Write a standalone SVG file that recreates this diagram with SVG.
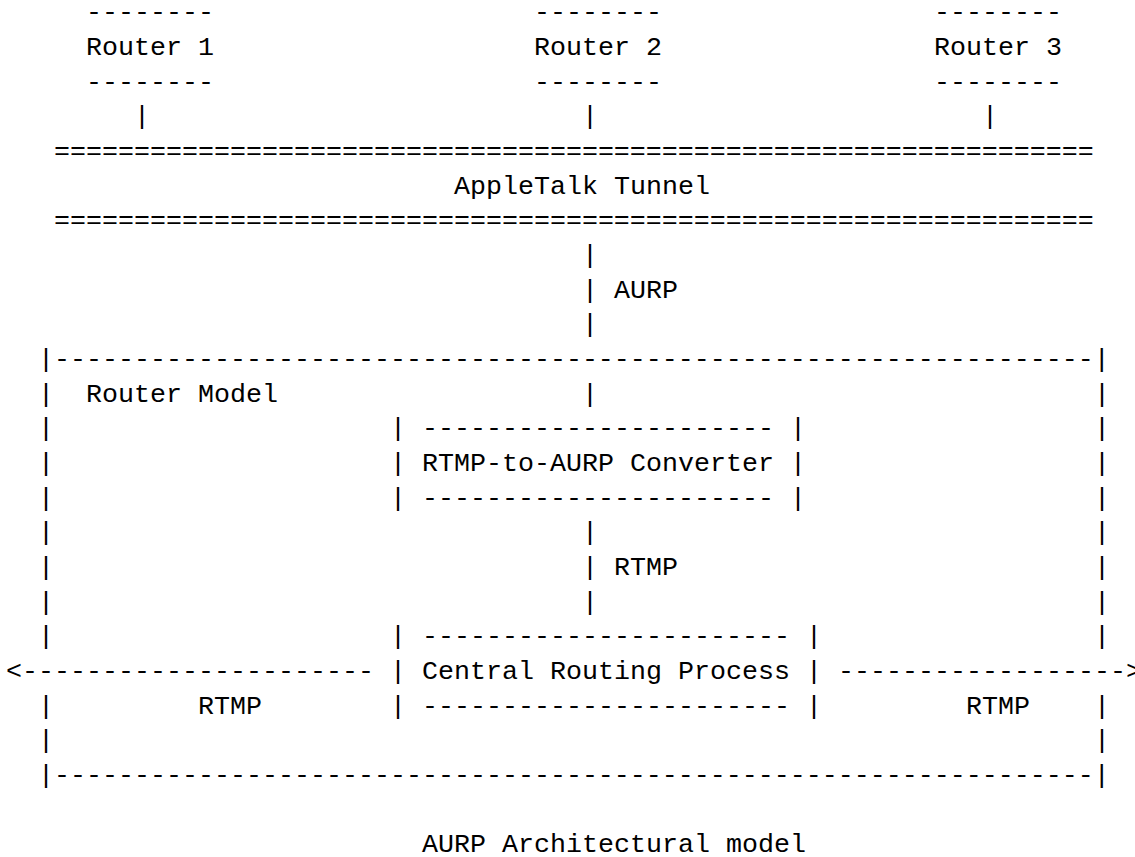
<svg xmlns="http://www.w3.org/2000/svg" width="1135" height="857" viewBox="0 0 1135 857">
<style>
.t{font-family:"Liberation Mono","Courier New",monospace;font-size:26.66px;fill:#000;white-space:pre}
</style>
<rect width="1135" height="857" fill="#fff"/>
<g id="router1">
<text class="t" x="86" y="20.3">--------</text>
<text class="t" x="86" y="55">Router 1</text>
<text class="t" x="86" y="89.7">--------</text>
</g>
<g id="router2">
<text class="t" x="534" y="20.3">--------</text>
<text class="t" x="534" y="55">Router 2</text>
<text class="t" x="534" y="89.7">--------</text>
</g>
<g id="router3">
<text class="t" x="934" y="20.3">--------</text>
<text class="t" x="934" y="55">Router 3</text>
<text class="t" x="934" y="89.7">--------</text>
</g>
<g id="tunnel">
<text class="t" x="54" y="159">=================================================================</text>
<text class="t" x="454" y="193.7">AppleTalk Tunnel</text>
<text class="t" x="54" y="228.3">=================================================================</text>
</g>
<g id="router-model">
<text class="t" x="38" y="367">|-----------------------------------------------------------------|</text>
<text class="t" x="86" y="401.7">Router Model</text>
<text class="t" x="38" y="401.7">|</text><text class="t" x="1094" y="401.7">|</text>
<text class="t" x="38" y="436.3">|</text><text class="t" x="1094" y="436.3">|</text>
<text class="t" x="38" y="471">|</text><text class="t" x="1094" y="471">|</text>
<text class="t" x="38" y="505.7">|</text><text class="t" x="1094" y="505.7">|</text>
<text class="t" x="38" y="540.3">|</text><text class="t" x="1094" y="540.3">|</text>
<text class="t" x="38" y="575">|</text><text class="t" x="1094" y="575">|</text>
<text class="t" x="38" y="609.7">|</text><text class="t" x="1094" y="609.7">|</text>
<text class="t" x="38" y="644.3">|</text><text class="t" x="1094" y="644.3">|</text>
<text class="t" x="38" y="713.7">|</text><text class="t" x="1094" y="713.7">|</text>
<text class="t" x="38" y="748.3">|</text><text class="t" x="1094" y="748.3">|</text>
<text class="t" x="38" y="783">|-----------------------------------------------------------------|</text>
</g>
<g id="converter">
<text class="t" x="390" y="436.3">|</text><text class="t" x="422" y="436.3">----------------------</text><text class="t" x="790" y="436.3">|</text>
<text class="t" x="390" y="471">|</text><text class="t" x="422" y="471">RTMP-to-AURP Converter</text><text class="t" x="790" y="471">|</text>
<text class="t" x="390" y="505.7">|</text><text class="t" x="422" y="505.7">----------------------</text><text class="t" x="790" y="505.7">|</text>
</g>
<g id="central">
<text class="t" x="390" y="644.3">|</text><text class="t" x="422" y="644.3">-----------------------</text><text class="t" x="806" y="644.3">|</text>
<text class="t" x="390" y="679">|</text><text class="t" x="422" y="679">Central Routing Process</text><text class="t" x="806" y="679">|</text>
<text class="t" x="390" y="713.7">|</text><text class="t" x="422" y="713.7">-----------------------</text><text class="t" x="806" y="713.7">|</text>
</g>
<g id="connectors">
<text class="t" x="134" y="124.3">|</text>
<text class="t" x="582" y="124.3">|</text>
<text class="t" x="982" y="124.3">|</text>
<text class="t" x="582" y="263">|</text>
<text class="t" x="582" y="297.7">| AURP</text>
<text class="t" x="582" y="332.3">|</text>
<text class="t" x="582" y="401.7">|</text>
<text class="t" x="582" y="540.3">|</text>
<text class="t" x="582" y="575">| RTMP</text>
<text class="t" x="582" y="609.7">|</text>
<text class="t" x="6" y="679">&lt;----------------------</text>
<text class="t" x="838" y="679">------------------&gt;</text>
<text class="t" x="198" y="713.7">RTMP</text>
<text class="t" x="966" y="713.7">RTMP</text>
</g>
<g id="caption">
<text class="t" x="422" y="852.3">AURP Architectural model</text>
</g>
</svg>
